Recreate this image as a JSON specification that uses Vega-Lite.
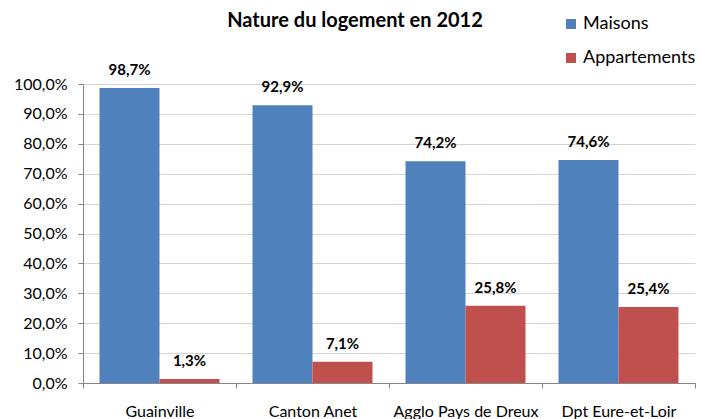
{
  "$schema": "https://vega.github.io/schema/vega-lite/v6.json",
  "width": 612,
  "height": 299,
  "autosize": "none",
  "padding": {"left": 83, "top": 84, "right": 7, "bottom": 36},
  "background": "white",
  "config": {
    "locale": {"number": {"decimal": ",", "thousands": " ", "grouping": [3], "currency": ["", " €"]}},
    "view": {"stroke": null},
    "font": "Lato"
  },
  "title": {
    "text": "Nature du logement en 2012",
    "frame": "group",
    "anchor": "middle",
    "dx": -34,
    "font": "Lato",
    "fontSize": 20,
    "fontWeight": "bold",
    "color": "#000000",
    "baseline": "alphabetic",
    "offset": -32
  },
  "data": {
    "values": [
      {"zone": "Guainville", "type": "Maisons", "part": 0.987},
      {"zone": "Guainville", "type": "Appartements", "part": 0.013},
      {"zone": "Canton Anet", "type": "Maisons", "part": 0.929},
      {"zone": "Canton Anet", "type": "Appartements", "part": 0.071},
      {"zone": "Agglo Pays de Dreux", "type": "Maisons", "part": 0.742},
      {"zone": "Agglo Pays de Dreux", "type": "Appartements", "part": 0.258},
      {"zone": "Dpt Eure-et-Loir", "type": "Maisons", "part": 0.746},
      {"zone": "Dpt Eure-et-Loir", "type": "Appartements", "part": 0.254}
    ]
  },
  "encoding": {
    "x": {
      "field": "zone",
      "type": "nominal",
      "sort": null,
      "scale": {"paddingInner": 0, "paddingOuter": 0},
      "axis": {
        "title": null,
        "labelAngle": 0,
        "labelFont": "Lato",
        "labelFontSize": 16,
        "labelColor": "#000000",
        "labelPadding": 15,
        "labelBaseline": "top",
        "domainColor": "#868686",
        "tickColor": "#868686",
        "tickSize": 5,
        "tickBand": "extent",
        "grid": false
      }
    },
    "xOffset": {
      "field": "type",
      "type": "nominal",
      "sort": ["Maisons", "Appartements"],
      "scale": {"paddingInner": 0, "paddingOuter": 0.275}
    },
    "y": {
      "field": "part",
      "type": "quantitative",
      "scale": {"domain": [0, 1], "nice": false},
      "axis": {
        "title": null,
        "format": ".1%",
        "values": [0, 0.1, 0.2, 0.3, 0.4, 0.5, 0.6, 0.7, 0.8, 0.9, 1],
        "labelOverlap": false,
        "labelFont": "Lato",
        "labelFontSize": 16,
        "labelColor": "#000000",
        "labelPadding": 11,
        "domainColor": "#868686",
        "tickColor": "#868686",
        "tickSize": 5,
        "gridColor": "#d4d4d4"
      }
    }
  },
  "layer": [
    {
      "mark": {"type": "bar"},
      "encoding": {
        "color": {
          "field": "type",
          "type": "nominal",
          "sort": ["Maisons", "Appartements"],
          "scale": {"domain": ["Maisons", "Appartements"], "range": ["#4F81BD", "#C0504D"]},
          "legend": {
            "title": null,
            "orient": "none",
            "legendX": 479,
            "legendY": -69,
            "symbolType": "square",
            "symbolSize": 100,
            "symbolStrokeWidth": 0,
            "labelFont": "Lato",
            "labelFontSize": 18,
            "labelColor": "#000000",
            "labelOffset": 3,
            "rowPadding": 16
          }
        }
      }
    },
    {
      "mark": {"type": "text", "baseline": "alphabetic", "dy": -13, "font": "Lato", "fontSize": 15, "fontWeight": "bold", "color": "#000000"},
      "encoding": {
        "text": {"field": "part", "type": "quantitative", "format": ".1%"}
      }
    }
  ]
}
